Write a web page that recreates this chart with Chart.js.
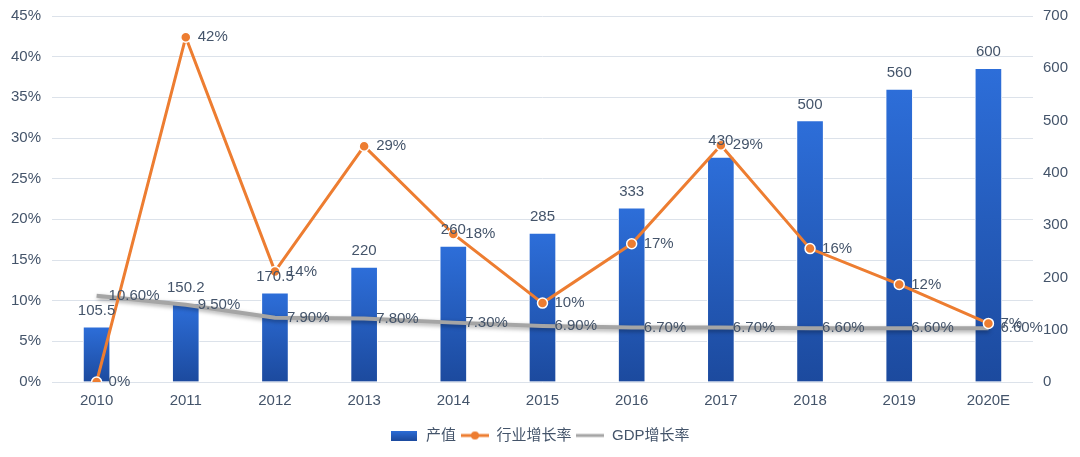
<!DOCTYPE html>
<html>
<head>
<meta charset="utf-8">
<script src="https://cdn.jsdelivr.net/npm/chart.js@4/dist/chart.umd.min.js"></script>
<style>
html,body{margin:0;padding:0;background:#fff;}
#wrap{width:1080px;height:457px;position:relative;}
</style>
</head>
<body>
<div id="wrap"><canvas id="c" width="1080" height="457"></canvas></div>
<script>
const categories = ['2010','2011','2012','2013','2014','2015','2016','2017','2018','2019','2020E'];
const outputValues = [105.5, 150.2, 170.5, 220, 260, 285, 333, 430, 500, 560, 600];
const industryGrowth = [0, 42.4, 13.6, 29.0, 18.2, 9.7, 17.0, 29.1, 16.4, 12.0, 7.2];
const gdpGrowth = [10.6, 9.5, 7.9, 7.8, 7.3, 6.9, 6.7, 6.7, 6.6, 6.6, 6.6];
const seriesNames = ['产值', '行业增长率', 'GDP增长率'];

const FONT = '"Liberation Sans", Arial, "Noto Sans CJK SC", sans-serif';
const TEXT = '#44546A';
const ORANGE = '#ED7D31';
const GRAY = '#A5A5A5';
const BLUE_TOP = '#2D6ED9';
const BLUE_BOT = '#1C4A9E';

function mk(w, h, draw){ const c=document.createElement('canvas'); c.width=w; c.height=h; draw(c.getContext('2d')); return c; }
const legBar = mk(26, 10, g => { const gr=g.createLinearGradient(0,0,0,10); gr.addColorStop(0,BLUE_TOP); gr.addColorStop(1,BLUE_BOT); g.fillStyle=gr; g.fillRect(0,0,26,10); });
const legOrange = mk(28, 10, g => { g.strokeStyle=ORANGE; g.lineWidth=3; g.beginPath(); g.moveTo(0,5); g.lineTo(28,5); g.stroke(); g.fillStyle=ORANGE; g.beginPath(); g.arc(14,5,4,0,Math.PI*2); g.fill(); });
const legGray = mk(28, 10, g => { g.strokeStyle=GRAY; g.lineWidth=3; g.beginPath(); g.moveTo(0,5); g.lineTo(28,5); g.stroke(); });

function barGradient(ctx){
  const chart = ctx.chart;
  if (!chart.chartArea || ctx.type !== 'data') return BLUE_TOP;
  const ys = chart.scales.y1;
  const top = ys.getPixelForValue(ctx.raw);
  const bot = ys.getPixelForValue(0);
  const g = chart.ctx.createLinearGradient(0, top, 0, bot);
  g.addColorStop(0, BLUE_TOP);
  g.addColorStop(1, BLUE_BOT);
  return g;
}

const shadowPlugin = {
  id: 'shadow',
  beforeDatasetDraw(chart, args){
    if (args.index === 2){ const c=chart.ctx; c.save(); c.shadowColor='rgba(0,0,0,0.35)'; c.shadowBlur=4; c.shadowOffsetX=1; c.shadowOffsetY=2; }
  },
  afterDatasetDraw(chart, args){
    if (args.index === 2){ chart.ctx.restore(); }
  }
};

const labelPlugin = {
  id: 'valueLabels',
  afterDatasetsDraw(chart){
    const c = chart.ctx;
    c.save();
    c.font = '15px ' + FONT;
    c.fillStyle = TEXT;
    c.textBaseline = 'middle';
    chart.getDatasetMeta(0).data.forEach((el, i) => {
      c.textAlign = 'center';
      c.fillText(String(outputValues[i]), el.x, el.y - 16);
    });
    chart.getDatasetMeta(2).data.forEach((el, i) => {
      c.textAlign = 'left';
      c.fillText(gdpGrowth[i].toFixed(2) + '%', el.x + 12, el.y);
    });
    chart.getDatasetMeta(1).data.forEach((el, i) => {
      c.textAlign = 'left';
      c.fillText(Math.round(industryGrowth[i]) + '%', el.x + 12, el.y);
    });
    c.restore();
  }
};

new Chart(document.getElementById('c'), {
  data: {
    labels: categories,
    datasets: [
      { type: 'bar', label: seriesNames[0], data: outputValues, yAxisID: 'y1', backgroundColor: barGradient,
        borderColor: '#ffffff', borderWidth: 1, barThickness: 27, order: 3 },
      { type: 'line', label: seriesNames[1], data: industryGrowth, yAxisID: 'y', borderColor: ORANGE, borderWidth: 3,
        pointRadius: 5, pointBackgroundColor: ORANGE, pointBorderColor: '#ffffff', pointBorderWidth: 1.5, tension: 0, order: 1 },
      { type: 'line', label: seriesNames[2], data: gdpGrowth, yAxisID: 'y', borderColor: GRAY, borderWidth: 4,
        pointRadius: 0, tension: 0, order: 2 }
    ]
  },
  options: {
    responsive: false,
    animation: false,
    events: [],
    layout: { padding: { top: 16, bottom: 4, left: 0, right: 0 } },
    plugins: {
      tooltip: { enabled: false },
      legend: {
        position: 'bottom',
        labels: {
          font: { size: 15, family: FONT },
          color: TEXT,
          usePointStyle: true,
          pointStyleWidth: 28,
          padding: 5,
          generateLabels(){
            return [
              { text: seriesNames[0], pointStyle: legBar, fontColor: TEXT, hidden: false, datasetIndex: 0, lineWidth: 0 },
              { text: seriesNames[1], pointStyle: legOrange, fontColor: TEXT, hidden: false, datasetIndex: 1, lineWidth: 0 },
              { text: seriesNames[2], pointStyle: legGray, fontColor: TEXT, hidden: false, datasetIndex: 2, lineWidth: 0 }
            ];
          }
        }
      }
    },
    scales: {
      x: {
        grid: { display: false, drawTicks: false },
        border: { display: false },
        ticks: { color: TEXT, font: { size: 15, family: FONT }, padding: 10, maxRotation: 0 },
        afterFit(s){ s.height = 41; }
      },
      y: {
        position: 'left', min: 0, max: 45,
        grid: { color: '#DCE2EA', lineWidth: 1, drawTicks: false },
        border: { display: false },
        ticks: { stepSize: 5, color: TEXT, font: { size: 15, family: FONT }, padding: 11, callback: v => v + '%' },
        afterFit(s){ s.width = 52; s.paddingTop = 0; s.paddingBottom = 0; }
      },
      y1: {
        position: 'right', min: 0, max: 700,
        grid: { drawOnChartArea: false, drawTicks: false },
        border: { display: false },
        ticks: { stepSize: 100, color: TEXT, font: { size: 15, family: FONT }, padding: 10 },
        afterFit(s){ s.width = 47; s.paddingTop = 0; s.paddingBottom = 0; }
      }
    }
  },
  plugins: [shadowPlugin, labelPlugin]
});
</script>
</body>
</html>
